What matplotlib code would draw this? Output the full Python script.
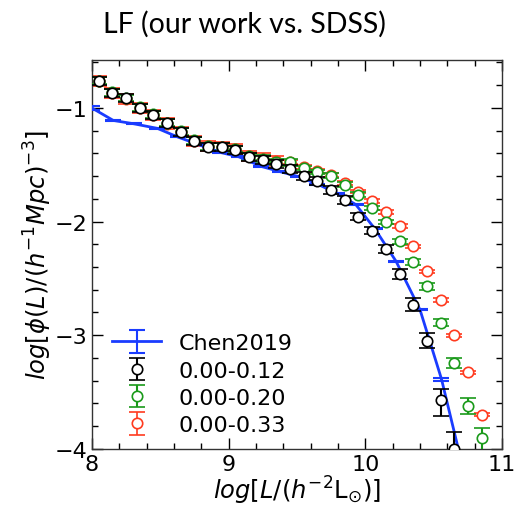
import numpy as np
import matplotlib
matplotlib.use("Agg")
import matplotlib.pyplot as plt
from matplotlib.ticker import MultipleLocator

# Chen2019 reference LF
chen_x = [8.0, 8.157, 8.31, 8.48, 8.627, 8.775, 8.935, 9.075, 9.24, 9.375, 9.51,
          9.65, 9.79, 9.93, 10.07, 10.225, 10.40, 10.557, 10.71]
chen_y = [-1.00, -1.11, -1.14, -1.18, -1.255, -1.32, -1.39, -1.43, -1.515, -1.56, -1.604,
          -1.67, -1.75, -1.85, -2.064, -2.35, -2.776, -3.386, -4.15]
chen_err = [0.02, 0.005, 0.005, 0.005, 0.005, 0.005, 0.005, 0.005, 0.005, 0.005, 0.005,
            0.005, 0.005, 0.005, 0.005, 0.005, 0.005, 0.013, 0.03]

# our work, three redshift ranges (bin centres)
lum_x = [8.05, 8.15, 8.25, 8.35, 8.45, 8.55, 8.65, 8.75, 8.85, 8.95, 9.05, 9.15, 9.25, 9.35,
         9.45, 9.55, 9.65, 9.75, 9.85, 9.95, 10.05, 10.15, 10.25, 10.35, 10.45, 10.55, 10.65,
         10.75, 10.85]

phi_012 = [-0.763, -0.866, -0.915, -0.997, -1.061, -1.134, -1.21, -1.29, -1.34, -1.345, -1.368,
           -1.43, -1.456, -1.49, -1.54, -1.603, -1.646, -1.725, -1.813, -1.956, -2.082, -2.24,
           -2.46, -2.73, -3.05, -3.57, -4.0]
err_012_lo = [0.035] * 19 + [0.03, 0.03, 0.035, 0.044, 0.06, 0.066, 0.14, 0.2]
err_012_hi = [0.035] * 19 + [0.03, 0.03, 0.035, 0.044, 0.06, 0.066, 0.10, 0.15]

phi_020 = [-0.76, -0.862, -0.912, -0.993, -1.057, -1.13, -1.205, -1.285, -1.336, -1.34, -1.362,
           -1.425, -1.448, -1.475, -1.48, -1.529, -1.564, -1.596, -1.675, -1.763, -1.88, -2.003,
           -2.173, -2.354, -2.568, -2.889, -3.248, -3.625, -3.904]
err_020_lo = [0.03] * 15 + [0.02] * 8 + [0.025, 0.03, 0.03, 0.044, 0.07, 0.12]
err_020_hi = [0.03] * 15 + [0.02] * 8 + [0.025, 0.03, 0.03, 0.044, 0.07, 0.085]

phi_033 = [-0.765, -0.87, -0.92, -1.0, -1.065, -1.137, -1.21, -1.29, -1.338, -1.342, -1.36,
           -1.42, -1.445, -1.47, -1.475, -1.52, -1.555, -1.59, -1.66, -1.736, -1.82, -1.917,
           -2.04, -2.217, -2.439, -2.69, -3.0, -3.327, -3.7]
err_033 = [0.045] * 14 + [0.015] * 15

fig = plt.figure(figsize=(5.16, 5.06), dpi=100)
ax = fig.add_axes([0.178, 0.111, 0.795, 0.768])

ax.errorbar(chen_x, chen_y, yerr=chen_err, color='#1a3cff', lw=2, capsize=6,
            elinewidth=1.5, capthick=1.5, label='Chen2019', zorder=4)
ax.errorbar(lum_x[:len(phi_033)], phi_033, yerr=err_033, fmt='o', color='#ff3b1f',
            mfc='white', mec='#ff3b1f', ms=7.5, mew=1.2, capsize=6, elinewidth=1.2,
            capthick=1.2, label='0.00-0.33', zorder=2)
ax.errorbar(lum_x[:len(phi_020)], phi_020, yerr=[err_020_lo, err_020_hi], fmt='o',
            color='#1a9a1a', mfc='white', mec='#1a9a1a', ms=7.5, mew=1.2, capsize=6,
            elinewidth=1.5, capthick=1.2, label='0.00-0.20', zorder=3)
ax.errorbar(lum_x[:len(phi_012)], phi_012, yerr=[err_012_lo, err_012_hi], fmt='o',
            color='black', mfc='white', mec='black', ms=7.5, mew=1.2, capsize=6,
            elinewidth=1.5, capthick=1.2, label='0.00-0.12', zorder=5)

ax.set_xlim(8, 11)
ax.set_ylim(-4, -0.58)
ax.xaxis.set_major_locator(MultipleLocator(1))
ax.xaxis.set_minor_locator(MultipleLocator(0.2))
ax.yaxis.set_major_locator(MultipleLocator(1))
ax.yaxis.set_minor_locator(MultipleLocator(0.2))
ax.tick_params(which='both', direction='in', top=True, right=True, labelsize=16)
ax.tick_params(which='major', length=8, width=1)
ax.tick_params(which='minor', length=4, width=1)
for s in ax.spines.values():
    s.set_linewidth(1)
    s.set_color('#333333')

ax.set_xlabel(r'$log[L/(h^{-2}{\rm L}_{\odot})]$', fontsize=17.5, labelpad=0)
ax.set_ylabel(r'$log[\phi(L)/(h^{-1}Mpc)^{-3}]$', fontsize=17.5, labelpad=0)

h, l = ax.get_legend_handles_labels()
order = [0, 3, 2, 1]
ax.legend([h[i] for i in order], [l[i] for i in order], loc='lower left', frameon=False,
          fontsize=16, handlelength=2.2, borderaxespad=0.3, labelspacing=0.33,
          bbox_to_anchor=(0.012, -0.005))

fig.text(0.2, 0.935, 'LF (our work vs. SDSS)', fontsize=20.5, family='Lato', va='baseline')

fig.savefig('out.png', dpi=100)
